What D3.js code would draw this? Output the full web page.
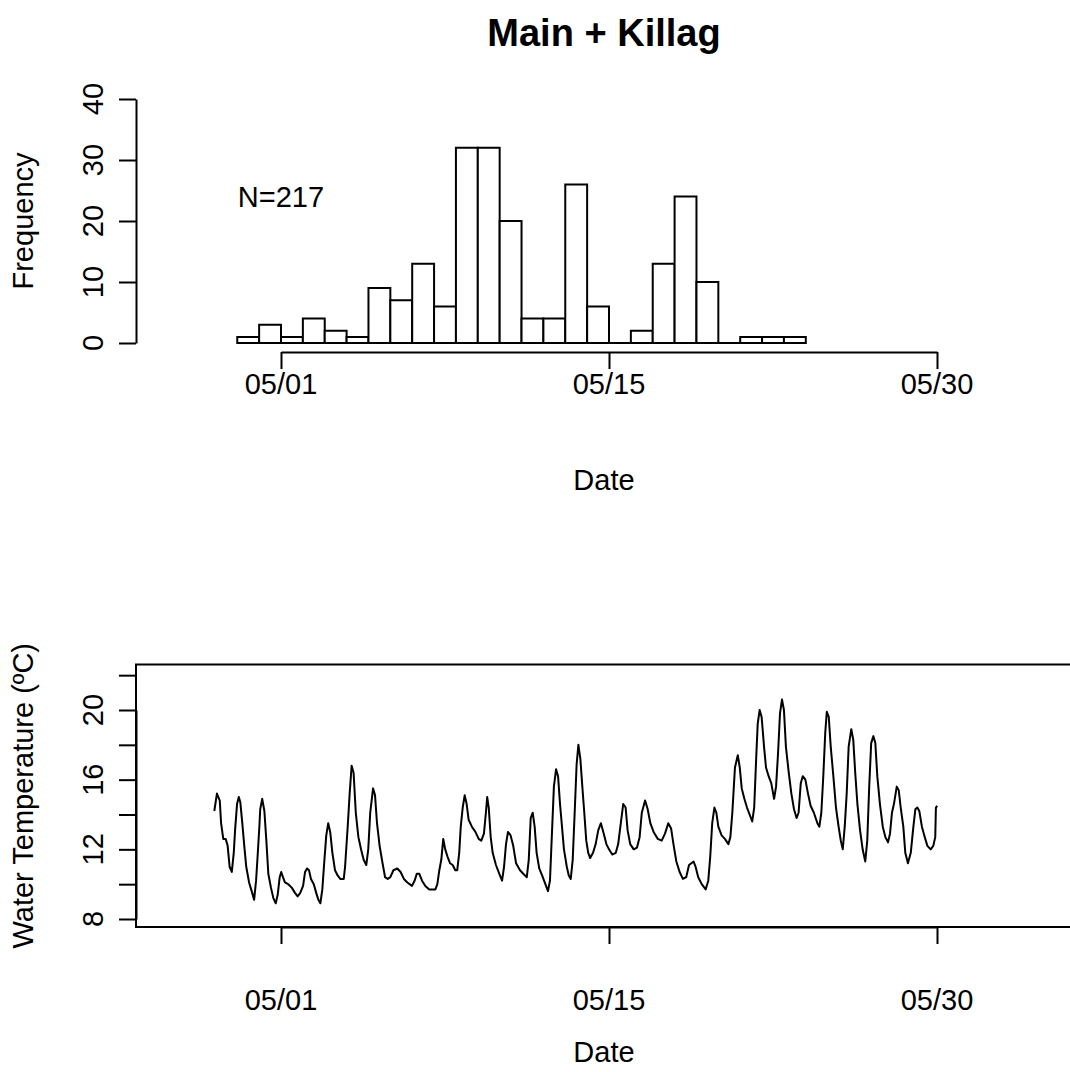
<!DOCTYPE html>
<html lang="en">
<head>
<meta charset="UTF-8">
<title>Main + Killag</title>
<script src="https://d3js.org/d3.v7.min.js"></script>
<style>
  body{margin:0;background:#fff;}
  svg{display:block;font-family:"Liberation Sans",Arial,sans-serif;}
  .lbl{font-size:29px;fill:#000;}
  .title{font-size:38px;font-weight:bold;}
</style>
</head>
<body>
<script>
// days are counted from 05/01 (= 0); the axis labels the ticks 0, 15, 30
const binStart = -2
const counts = [1,3,1,4,2,1,9,7,13,6,32,32,20,4,4,26,6,0,2,13,24,10,0,1,1,1]
const nLabel = "N=217"
const dateTicks = [0, 15, 30]
const dateLabels = ["05/01", "05/15", "05/30"]
const freqTicks = [0, 10, 20, 30, 40]
const tempTicks = [8, 10, 12, 14, 16, 18, 20, 22]
const tempLabelTicks = [8, 12, 16, 20]

// [day, water temperature]
const waterTemp = [
  [-3.05,14.2],[-2.93,15.2],[-2.80,14.8],[-2.74,13.5],[-2.64,12.6],[-2.53,12.6],[-2.44,12.2],[-2.35,11.0],
  [-2.25,10.7],[-2.16,11.8],[-2.10,13.1],[-2.01,14.6],[-1.93,15.0],[-1.86,14.7],[-1.77,13.5],[-1.68,12.2],
  [-1.59,11.0],[-1.46,10.1],[-1.34,9.6],[-1.23,9.1],[-1.14,10.2],[-1.07,11.6],[-0.99,13.3],[-0.95,14.3],
  [-0.86,14.9],[-0.76,14.2],[-0.67,12.5],[-0.58,10.6],[-0.46,9.8],[-0.35,9.2],[-0.24,8.9],[-0.15,9.4],
  [-0.06,10.4],[0.01,10.7],[0.09,10.4],[0.18,10.1],[0.33,10.0],[0.49,9.8],[0.64,9.5],[0.76,9.3],
  [0.88,9.5],[1.01,9.9],[1.10,10.7],[1.19,10.9],[1.28,10.8],[1.37,10.3],[1.50,10.0],[1.61,9.5],
  [1.71,9.1],[1.80,8.9],[1.89,9.7],[1.98,11.3],[2.07,12.8],[2.16,13.5],[2.25,13.0],[2.35,11.8],
  [2.47,10.8],[2.59,10.5],[2.71,10.3],[2.87,10.3],[2.93,11.0],[3.05,13.3],[3.14,15.2],[3.23,16.8],
  [3.32,16.4],[3.42,14.1],[3.54,12.7],[3.66,12.0],[3.78,11.4],[3.90,11.1],[3.99,12.0],[4.08,14.1],
  [4.21,15.5],[4.30,15.1],[4.39,13.5],[4.51,12.2],[4.63,11.3],[4.76,10.4],[4.88,10.3],[5.00,10.4],
  [5.14,10.8],[5.32,10.9],[5.47,10.7],[5.62,10.3],[5.78,10.1],[5.99,9.9],[6.11,10.2],[6.21,10.6],
  [6.32,10.6],[6.45,10.2],[6.60,9.9],[6.78,9.7],[7.06,9.7],[7.15,10.0],[7.24,10.8],[7.33,11.4],
  [7.42,12.6],[7.51,12.0],[7.61,11.6],[7.73,11.2],[7.85,11.1],[7.97,10.8],[8.06,10.8],[8.15,11.8],
  [8.22,13.3],[8.31,14.4],[8.40,15.1],[8.49,14.6],[8.58,13.7],[8.73,13.3],[8.89,13.0],[9.04,12.6],
  [9.16,12.5],[9.28,12.9],[9.37,14.1],[9.43,15.0],[9.50,14.4],[9.59,12.7],[9.68,11.8],[9.83,11.1],
  [9.98,10.6],[10.11,10.2],[10.20,11.0],[10.29,12.3],[10.38,13.0],[10.50,12.8],[10.62,12.2],[10.75,11.2],
  [10.93,10.8],[11.08,10.6],[11.24,10.4],[11.33,11.4],[11.42,13.8],[11.51,14.1],[11.60,13.3],[11.69,11.8],
  [11.81,10.9],[11.94,10.5],[12.06,10.1],[12.21,9.6],[12.30,10.2],[12.39,12.9],[12.48,15.6],[12.58,16.6],
  [12.67,16.2],[12.76,14.6],[12.85,13.3],[12.94,12.0],[13.07,11.0],[13.16,10.5],[13.25,10.3],[13.34,11.4],
  [13.43,14.1],[13.52,16.9],[13.60,18.0],[13.69,17.2],[13.78,15.6],[13.87,14.1],[13.96,12.5],[14.05,11.8],
  [14.14,11.5],[14.27,11.8],[14.39,12.3],[14.51,13.1],[14.63,13.5],[14.76,12.9],[14.88,12.3],[15.00,12.0],
  [15.15,11.7],[15.31,11.8],[15.42,12.3],[15.52,13.3],[15.65,14.6],[15.76,14.4],[15.85,13.1],[15.97,12.3],
  [16.13,12.0],[16.28,12.1],[16.40,12.7],[16.50,14.1],[16.65,14.8],[16.77,14.3],[16.89,13.5],[17.04,13.0],
  [17.23,12.6],[17.41,12.5],[17.56,12.9],[17.71,13.5],[17.84,13.2],[17.96,12.2],[18.08,11.3],[18.23,10.7],
  [18.38,10.3],[18.53,10.4],[18.66,11.1],[18.87,11.3],[18.96,11.0],[19.08,10.4],[19.24,10.0],[19.42,9.7],
  [19.54,10.2],[19.63,11.6],[19.72,13.5],[19.82,14.4],[19.91,14.1],[20.00,13.3],[20.15,12.8],[20.30,12.6],
  [20.46,12.3],[20.55,12.7],[20.64,14.1],[20.70,15.4],[20.76,16.7],[20.89,17.4],[20.98,16.7],[21.07,15.5],
  [21.19,14.9],[21.31,14.4],[21.46,13.9],[21.55,13.6],[21.64,14.4],[21.74,17.5],[21.80,19.2],[21.89,20.0],
  [21.98,19.6],[22.09,17.9],[22.18,16.7],[22.30,16.2],[22.42,15.8],[22.55,14.9],[22.64,15.6],[22.73,17.5],
  [22.82,19.8],[22.91,20.6],[23.00,20.0],[23.09,17.9],[23.22,16.4],[23.34,15.2],[23.46,14.3],[23.58,13.8],
  [23.67,14.1],[23.77,15.8],[23.86,16.2],[23.98,16.0],[24.10,15.2],[24.22,14.5],[24.37,14.1],[24.53,13.5],
  [24.62,13.3],[24.71,14.1],[24.80,16.2],[24.89,18.7],[24.96,19.9],[25.05,19.6],[25.14,17.9],[25.26,16.2],
  [25.38,14.4],[25.50,13.3],[25.60,12.5],[25.69,12.0],[25.78,13.3],[25.87,15.2],[25.96,17.9],[26.08,18.9],
  [26.17,18.3],[26.26,16.4],[26.36,14.6],[26.48,13.1],[26.60,12.0],[26.72,11.3],[26.81,12.5],[26.90,15.6],
  [26.99,18.1],[27.09,18.5],[27.18,18.1],[27.27,16.2],[27.39,14.6],[27.52,13.3],[27.64,12.7],[27.76,12.4],
  [27.85,12.9],[27.94,14.1],[28.03,14.6],[28.16,15.6],[28.25,15.4],[28.34,14.4],[28.46,13.3],[28.55,11.8],
  [28.67,11.2],[28.80,11.8],[28.92,13.3],[29.01,14.3],[29.10,14.4],[29.19,14.2],[29.31,13.3],[29.44,12.7],
  [29.56,12.2],[29.71,12.0],[29.83,12.2],[29.92,12.7],[29.95,14.4],[30.01,14.5]
]

const W = 1070, H = 1072
// plot region edges (R style layout)
const left = 136, right = 1072
const top1Bottom = 352
const box2 = {top: 664.5, bottom: 927}

const svg = d3.select("body").append("svg").attr("width", W).attr("height", H)

const x = d3.scaleLinear().domain([0, 30]).range([281, 937])
const yF = d3.scaleLinear().domain([0, 40]).range([343, 99])
const yT = d3.scaleLinear().domain([8, 20]).range([919, 710])

function styleAxis(g){
    g.selectAll("path,line").attr("stroke", "#000").attr("stroke-width", 2)
    g.selectAll("text").remove()
}

// ---------- top panel: histogram ----------
svg.append("text").attr("class", "title")
    .attr("x", (left + right) / 2).attr("y", 46)
    .attr("text-anchor", "middle").text("Main + Killag")

// drawn as paths so empty bins still leave their base line, like R's hist
svg.append("g").selectAll("path").data(counts).join("path")
    .attr("d", (d, i) => {
        const x0 = x(binStart + i), x1 = x(binStart + i + 1)
        return `M${x0},${yF(0)}V${yF(d)}H${x1}V${yF(0)}Z`
    })
    .attr("fill", "#fff").attr("stroke", "#000").attr("stroke-width", 2)

svg.append("g").attr("transform", `translate(0,${top1Bottom})`)
    .call(d3.axisBottom(x).tickValues(dateTicks).tickSize(17).tickSizeOuter(0))
    .call(styleAxis)

svg.append("g").attr("transform", `translate(${left},0)`)
    .call(d3.axisLeft(yF).tickValues(freqTicks).tickSize(17).tickSizeOuter(0))
    .call(styleAxis)

svg.append("g").selectAll("text").data(dateTicks).join("text")
    .attr("class", "lbl").attr("text-anchor", "middle")
    .attr("x", d => x(d)).attr("y", 394)
    .text((d, i) => dateLabels[i])

svg.append("g").selectAll("text").data(freqTicks).join("text")
    .attr("class", "lbl").attr("text-anchor", "middle")
    .attr("transform", d => `translate(103,${yF(d)}) rotate(-90)`)
    .text(d => d)

svg.append("text").attr("class", "lbl").attr("text-anchor", "middle")
    .attr("x", (left + right) / 2).attr("y", 490).text("Date")
svg.append("text").attr("class", "lbl").attr("text-anchor", "middle")
    .attr("transform", `translate(33,${(yF(0) + yF(40)) / 2}) rotate(-90)`)
    .text("Frequency")

svg.append("text").attr("class", "lbl").attr("text-anchor", "middle")
    .attr("x", x(0)).attr("y", yF(24) + 10).text(nLabel)

// ---------- bottom panel: water temperature ----------
svg.append("rect")
    .attr("x", left).attr("y", box2.top)
    .attr("width", right - left + 10).attr("height", box2.bottom - box2.top)
    .attr("fill", "none").attr("stroke", "#000").attr("stroke-width", 2)

const line = d3.line().x(d => x(d[0])).y(d => yT(d[1]))
svg.append("path").datum(waterTemp)
    .attr("d", line)
    .attr("fill", "none").attr("stroke", "#000").attr("stroke-width", 2)
    .attr("stroke-linejoin", "round")

svg.append("g").attr("transform", `translate(0,${box2.bottom})`)
    .call(d3.axisBottom(x).tickValues(dateTicks).tickSize(17).tickSizeOuter(0))
    .call(styleAxis)

svg.append("g").attr("transform", `translate(${left},0)`)
    .call(d3.axisLeft(yT).tickValues(tempTicks).tickSize(17).tickSizeOuter(0))
    .call(styleAxis)

svg.append("g").selectAll("text").data(dateTicks).join("text")
    .attr("class", "lbl").attr("text-anchor", "middle")
    .attr("x", d => x(d)).attr("y", 1010)
    .text((d, i) => dateLabels[i])

svg.append("g").selectAll("text").data(tempLabelTicks).join("text")
    .attr("class", "lbl").attr("text-anchor", "middle")
    .attr("transform", d => `translate(103,${yT(d)}) rotate(-90)`)
    .text(d => d)

svg.append("text").attr("class", "lbl").attr("text-anchor", "middle")
    .attr("x", (left + right) / 2).attr("y", 1062).text("Date")
svg.append("text").attr("class", "lbl").attr("text-anchor", "middle")
    .attr("transform", `translate(33,${(box2.top + box2.bottom) / 2}) rotate(-90)`)
    .text("Water Temperature (ºC)")
</script>
</body>
</html>
